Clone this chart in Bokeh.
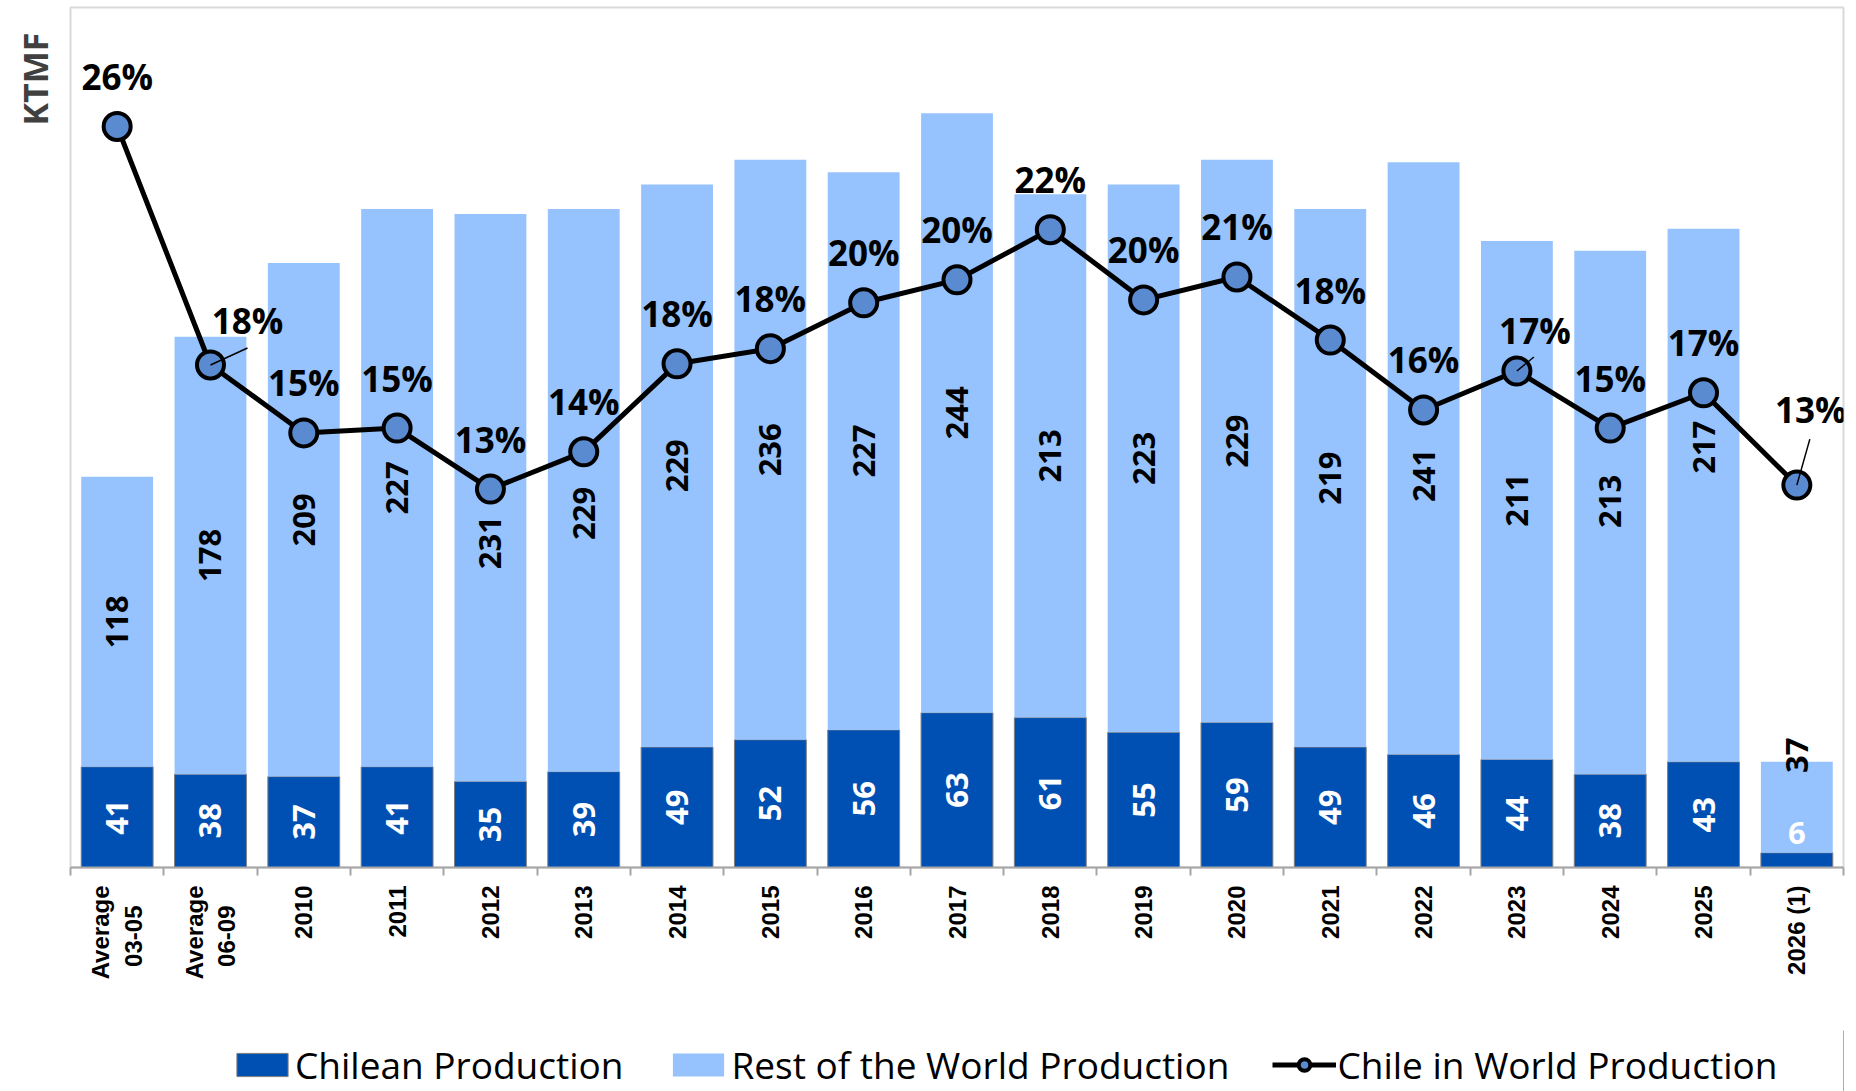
import math
from bokeh.plotting import figure
from bokeh.layouts import column
from bokeh.models import (Range1d, FixedTicker, ColumnDataSource, Legend,
                          LegendItem, Title)
from bokeh.core.properties import value
from bokeh.embed import file_html
from bokeh.resources import INLINE

# ---------------- data ----------------
categories = ["Average\n03-05", "Average\n06-09", "2010", "2011", "2012", "2013",
              "2014", "2015", "2016", "2017", "2018", "2019", "2020", "2021",
              "2022", "2023", "2024", "2025", "2026 (1)"]
chilean = [41, 38, 37, 41, 35, 39, 49, 52, 56, 63, 61, 55, 59, 49, 46, 44, 38, 43, 6]
rest_of_world = [118, 178, 209, 227, 231, 229, 229, 236, 227, 244, 213, 223, 229,
                 219, 241, 211, 213, 217, 37]
chile_share = [25.85, 17.53, 15.16, 15.33, 13.2, 14.5, 17.57, 18.1, 19.7, 20.5,
               22.25, 19.8, 20.6, 18.4, 15.96, 17.32, 15.33, 16.56, 13.34]
share_labels = [26, 18, 15, 15, 13, 14, 18, 18, 20, 20, 22, 20, 21, 18, 16, 17,
                15, 17, 13]
series_names = ["Chilean Production", "Rest of the World Production",
                "Chile in World Production"]

# ---------------- layout / style ----------------
W = 1856
H_MAIN, H_LEG = 1030, 61
BL, BR, BT, BB = 70, 13, 7, 163
FRAME_W = W - BL - BR
FRAME_H = H_MAIN - BT - BB
N = len(categories)
Y_MAX = 350
PCT_MAX = 30
px_per_cat = FRAME_W / N
px_per_pct = FRAME_H / PCT_MAX

DARK = "#0050B4"
LIGHT = "#96C3FD"
MARK = "#5A8AD0"
LBL_FONT = value("Open Sans")

# label offsets (pixels, positive = down / right)
rest_label_dy = [0, 0, 0, 0, 45, 23, 0, 0, 0, 0, 0, 0, 0, 0, 17, 0, -11, -48, -52]
chile_label_dy = [0] * 18 + [-27]
chile_label_angle = [math.pi / 2] * 18 + [0]
pct_dx = [0] * N
pct_dy = [-50] * N
pct_dx[1], pct_dy[1] = 37, -44
pct_dx[15], pct_dy[15] = 18, -40
pct_dx[18], pct_dy[18] = 14, -76
leaders = {1: (37, -17), 15: (17, -14), 18: (13, -46)}

# two-line tick labels are centred line by line
tick_text = [c.replace("\n03-05", "\n03-05   ").replace("\n06-09", "\n06-09   ")
             for c in categories]

xs = [i + 0.5 for i in range(N)]
totals = [c + r for c, r in zip(chilean, rest_of_world)]

src = ColumnDataSource(dict(
    x=xs, chile=chilean, total=totals,
    chile_mid=[c / 2 for c in chilean],
    rest_mid=[c + r / 2 for c, r in zip(chilean, rest_of_world)],
    chile_txt=[str(v) for v in chilean],
    rest_txt=[str(v) for v in rest_of_world],
    chile_dy=chile_label_dy, rest_dy=rest_label_dy,
    chile_ang=chile_label_angle,
    share=chile_share,
    share_txt=[f"{v}%" for v in share_labels],
    pdx=pct_dx, pdy=pct_dy,
))

p = figure(width=W, height=H_MAIN, x_range=Range1d(0, N), y_range=Range1d(0, Y_MAX),
           output_backend="svg", toolbar_location=None, y_axis_location=None,
           min_border_left=BL, min_border_right=BR, min_border_top=BT,
           min_border_bottom=BB)
p.extra_y_ranges = {"pct": Range1d(0, PCT_MAX)}
p.xgrid.visible = False
p.ygrid.visible = False
p.outline_line_color = "#d9d9d9"
p.outline_line_width = 2
p.background_fill_color = "white"
p.border_fill_color = "white"

# x axis: labels at centres, minor ticks at category boundaries
ax = p.xaxis[0]
ax.ticker = FixedTicker(ticks=xs, minor_ticks=list(range(N + 1)))
ax.major_label_overrides = {x: c for x, c in zip(xs, tick_text)}
ax.major_label_orientation = math.pi / 2
ax.major_label_text_font = "Liberation Sans"
ax.major_label_text_font_style = "bold"
ax.major_label_text_font_size = "24px"
ax.major_label_text_color = "black"
ax.major_label_standoff = 10
ax.major_tick_out = 0
ax.major_tick_in = 0
ax.minor_tick_out = 8
ax.minor_tick_in = 0
ax.minor_tick_line_color = "#a6a6a6"
ax.minor_tick_line_width = 2
ax.axis_line_color = "#a6a6a6"
ax.axis_line_width = 2

# bars
dark_style = dict(fill_color=DARK, line_color="#7f7f7f", line_width=1)
light_style = dict(fill_color=LIGHT, line_color=None)
line_style = dict(line_color="black", line_width=5)
mark_style = dict(fill_color=MARK, line_color="black", line_width=4)

p.vbar(x="x", bottom=0, top="chile", width=0.77, source=src, **dark_style)
p.vbar(x="x", bottom="chile", top="total", width=0.77, source=src, **light_style)

p.text(x="x", y="chile_mid", text="chile_txt", angle="chile_ang", y_offset="chile_dy",
       source=src, text_align="center", text_baseline="middle", text_color="white",
       text_font=LBL_FONT, text_font_style="bold", text_font_size="31px")
p.text(x="x", y="rest_mid", text="rest_txt", angle=math.pi / 2, y_offset="rest_dy",
       source=src, text_align="center", text_baseline="middle", text_color="black",
       text_font=LBL_FONT, text_font_style="bold", text_font_size="31px")

# share line
p.line(x="x", y="share", source=src, y_range_name="pct", **line_style)
p.scatter(x="x", y="share", source=src, y_range_name="pct", size=27, **mark_style)

for i, (dx, dy) in leaders.items():
    p.segment(x0=[xs[i]], y0=[chile_share[i]], x1=[xs[i] + dx / px_per_cat],
              y1=[chile_share[i] - dy / px_per_pct], y_range_name="pct",
              line_color="black", line_width=1.5)

p.text(x="x", y="share", text="share_txt", x_offset="pdx", y_offset="pdy",
       source=src, y_range_name="pct", text_align="center", text_baseline="middle",
       text_color="black", text_font=LBL_FONT, text_font_style="bold",
       text_font_size="35px")

# y label
p.add_layout(Title(text="KTMF", align="right", offset=25, standoff=22,
                   vertical_align="top",
                   text_font="Open Sans", text_font_style="bold",
                   text_font_size="34px", text_color="#404040"), "left")

# ---------------- legend strip ----------------
q = figure(width=W, height=H_LEG, x_range=Range1d(0, 1), y_range=Range1d(0, 1),
           output_backend="svg", toolbar_location=None, x_axis_location=None,
           y_axis_location=None, min_border=0, outline_line_color=None)
q.xgrid.visible = False
q.ygrid.visible = False
# proxy renderers placed outside the visible range: they only feed the legend
r1 = q.vbar(x=[10], bottom=[0], top=[1], width=0.1, **dark_style)
r2 = q.vbar(x=[10], bottom=[0], top=[1], width=0.1, **light_style)
r3 = q.line(x=[10, 11], y=[0.5, 0.5], **line_style)
r4 = q.scatter(x=[10], y=[0.5], size=20, **mark_style)
legend = Legend(items=[
    LegendItem(label=series_names[0], renderers=[r1]),
    LegendItem(label=series_names[1], renderers=[r2]),
    LegendItem(label=series_names[2], renderers=[r3, r4]),
], orientation="horizontal", location=(160, 1), glyph_width=64,
    glyph_height=29, label_standoff=1, spacing=43, padding=0, margin=0,
    border_line_color=None, background_fill_alpha=0,
    label_text_font="Open Sans", label_text_font_size="37px",
    label_text_color="black")
q.add_layout(legend)

layout = column(p, q, spacing=0)
open("out.html", "w").write(file_html(layout, INLINE))
